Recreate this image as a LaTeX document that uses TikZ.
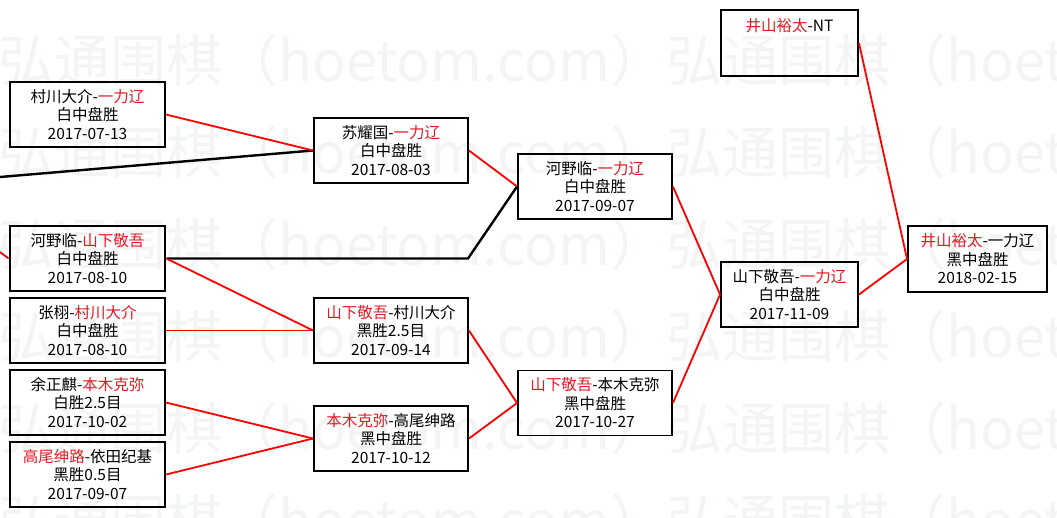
\documentclass[tikz,border=0pt]{standalone}
\usepackage{fontspec}
\setmainfont{Noto Sans CJK SC}
\usepackage{tikz}
\usetikzlibrary{calc}
\definecolor{wred}{RGB}{225,25,35}
\definecolor{wmgray}{RGB}{243,245,245}
\newcommand{\win}[1]{\textcolor{wred}{#1}}

\begin{document}
\begin{tikzpicture}[x=1pt,y=-1pt,
    game/.style={draw,line width=1.9pt,minimum width=155pt,minimum height=65pt,
      inner sep=0pt,align=center,font=\fontsize{15.5}{18.5}\selectfont},
    short/.style={game,minimum width=137pt},
    wline/.style={draw=red,line width=1.8pt},
    bline/.style={draw=black,line width=2.4pt},
    wm/.style={text=wmgray,inner sep=0pt,anchor=west,font=\fontsize{56}{56}\selectfont}]
      \useasboundingbox (0,0) rectangle (1057,517);
      \clip (0,0) rectangle (1057,517);
      % watermark rows
      \foreach \r in {0,...,5}
        \node[wm] (wm\r) at (-2,{60+92*\r}) {弘通围棋（hoetom.com）弘通围棋（hoetom.com）};
      % first round
      \node[game] (a) at (87.5,114.5) {村川大介-\win{一力辽}\\白中盘胜\\2017-07-13};
      \node[game,line width=2.8pt] (d) at (87.5,258.5) {河野临-\win{山下敬吾}\\白中盘胜\\2017-08-10};
      \node[game] (e) at (87.5,330.5) {张栩-\win{村川大介}\\白中盘胜\\2017-08-10};
      \node[game] (g) at (87.5,402.5) {余正麒-\win{本木克弥}\\白胜2.5目\\2017-10-02};
      \node[game] (h) at (87.5,474.5) {\win{高尾绅路}-依田纪基\\黑胜0.5目\\2017-09-07};
      % second round
      \node[game,minimum width=154pt] (b) at (391,150.5) {苏耀国-\win{一力辽}\\白中盘胜\\2017-08-03};
      \node[game,minimum width=154pt] (f) at (391,330.5) {\win{山下敬吾}-村川大介\\黑胜2.5目\\2017-09-14};
      \node[game,minimum width=154pt] (i) at (391,438.5) {\win{本木克弥}-高尾绅路\\黑中盘胜\\2017-10-12};
      \node[game,minimum width=154pt] (c) at (595,186.5) {河野临-\win{一力辽}\\白中盘胜\\2017-09-07};
      \node[game,minimum width=154pt] (j) at (595,403) {\win{山下敬吾}-本木克弥\\黑中盘胜\\2017-10-27};
      % final rounds
      \node[short] (k) at (789.5,294.5) {山下敬吾-\win{一力辽}\\白中盘胜\\2017-11-09};
      \node[short,minimum height=66pt] (l) at (789.5,43) {\win{井山裕太}-NT\\\mbox{}\\\mbox{}};
      \node[short,minimum width=139pt,minimum height=66pt] (m) at (977.5,259) {\win{井山裕太}-一力辽\\黑中盘胜\\2018-02-15};
      % loose ends and bends
      \coordinate (inb) at (0,177);
      \coordinate (ind) at (0,252);
      \coordinate (bend) at (468,258.5);
      % connectors
      \draw[bline] (inb) -- (b.west);
      \draw[bline] (d.east) -- (bend) -- (c.west);
      \draw[wline] (ind) -- (d.west);
      \draw[wline] (a.east) -- (b.west);
      \draw[wline] (d.east) -- (f.west);
      \draw[wline] (e.east) -- (f.west);
      \draw[wline] (g.east) -- (i.west);
      \draw[wline] (h.east) -- (i.west);
      \draw[wline] (b.east) -- (c.west);
      \draw[wline] (f.east) -- (j.west);
      \draw[wline] (i.east) -- (j.west);
      \draw[wline] (c.east) -- (k.west);
      \draw[wline] (j.east) -- (k.west);
      \draw[wline] (l.east) -- (m.west);
      \draw[wline] (k.east) -- (m.west);
    \end{tikzpicture}
\end{document}
